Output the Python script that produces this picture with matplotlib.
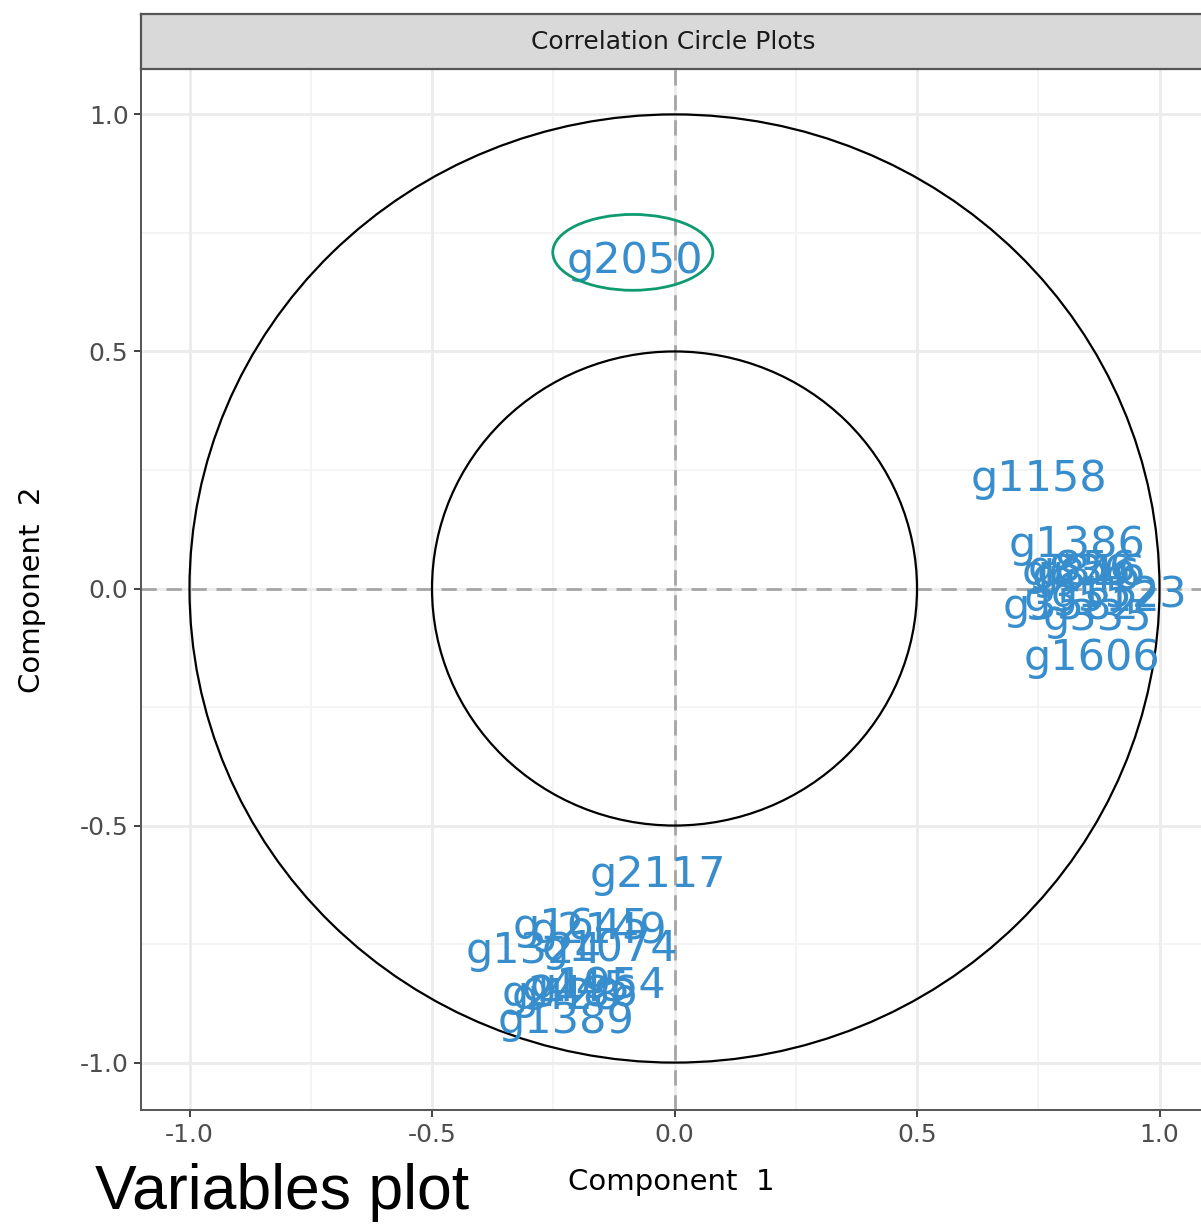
import matplotlib.pyplot as plt
from matplotlib.patches import Circle, Ellipse
import numpy as np

# variable coordinates (component 1, component 2)
names = ['g2050', 'g1158', 'g1386', 'g836', 'g846', 'g856', 'g816',
         'g1523', 'g3582', 'g3512', 'g335', 'g1606',
         'g2117', 'g1645', 'g2149', 'g1324', 'g1074', 'g1954',
         'g2486', 'g428', 'g445', 'g1389']
comp1 = [-0.082, 0.751, 0.829, 0.829, 0.849, 0.840, 0.860,
         0.917, 0.818, 0.860, 0.872, 0.860,
         -0.035, -0.192, -0.155, -0.289, -0.134, -0.157,
         -0.216, -0.223, -0.202, -0.223]
comp2 = [0.690, 0.232, 0.092, 0.033, 0.024, 0.042, 0.032,
         -0.014, -0.039, -0.023, -0.062, -0.146,
         -0.605, -0.715, -0.723, -0.765, -0.761, -0.839,
         -0.856, -0.862, -0.845, -0.912]

radii = [1.0, 0.5]
ticks = [-1.0, -0.5, 0.0, 0.5, 1.0]
minor = [-0.75, -0.25, 0.25, 0.75]

# highlighted variable (hand-drawn ellipse)
hl_center = (-0.086, 0.709)
hl_size = (0.33, 0.16)

W, H = 1201, 1226
fig = plt.figure(figsize=(W / 100, H / 100), dpi=100)
plt.rcParams['font.family'] = 'DejaVu Sans'

ax = fig.add_axes([141 / W, 116 / H, 1067 / W, 1043 / H])
ax.set_xlim(-1.1, 1.1)
ax.set_ylim(-1.1, 1.1)

# grid
for v in minor:
    ax.axvline(v, color='#F2F2F2', lw=1.2, zorder=0)
    ax.axhline(v, color='#F2F2F2', lw=1.2, zorder=0)
for v in ticks:
    ax.axvline(v, color='#EBEBEB', lw=2.0, zorder=0)
    ax.axhline(v, color='#EBEBEB', lw=2.0, zorder=0)

ax.axvline(0, color='#A6A6A6', lw=2.0, ls=(0, (5.5, 3.5)), zorder=1)
ax.axhline(0, color='#A6A6A6', lw=2.0, ls=(0, (5.5, 3.5)), zorder=1)

for r in radii:
    ax.add_patch(Circle((0, 0), r, fill=False, ec='black', lw=1.6, zorder=2))

for n, x, y in zip(names, comp1, comp2):
    ax.text(x, y, n, color='#388ECC', fontsize=31, ha='center', va='center',
            zorder=3)

ax.add_patch(Ellipse(hl_center, hl_size[0], hl_size[1], fill=False,
                     ec='#0E9B72', lw=2.0, zorder=4))

ax.set_xticks(ticks)
ax.set_yticks(ticks)
ax.set_xticklabels(['-1.0', '-0.5', '0.0', '0.5', '1.0'])
ax.set_yticklabels(['-1.0', '-0.5', '0.0', '0.5', '1.0'])
ax.tick_params(colors='#333333', labelcolor='#4D4D4D', labelsize=18,
               length=5, width=1.3, pad=4)
for s in ax.spines.values():
    s.set_color('#555555')
    s.set_linewidth(1.4)

fig.text(671 / W, 1 - 1182 / H, 'Component  1', fontsize=21,
         ha='center', va='center')
fig.text(32 / W, 1 - 590 / H, 'Component  2', fontsize=21,
         ha='center', va='center', rotation=90)

# facet strip
strip = fig.add_axes([141 / W, 1 - 69 / H, 1067 / W, 55 / H])
strip.set_facecolor('#D9D9D9')
strip.set_xticks([])
strip.set_yticks([])
for s in strip.spines.values():
    s.set_color('#555555')
    s.set_linewidth(1.6)
fig.text(673 / W, 1 - 42 / H, 'Correlation Circle Plots', fontsize=18,
         color='#1A1A1A', ha='center', va='center')

fig.text(95 / W, 1 - 1192 / H, 'Variables plot', fontsize=45,
         family='Liberation Sans', ha='left', va='center')

fig.savefig('out.png', dpi=100)
